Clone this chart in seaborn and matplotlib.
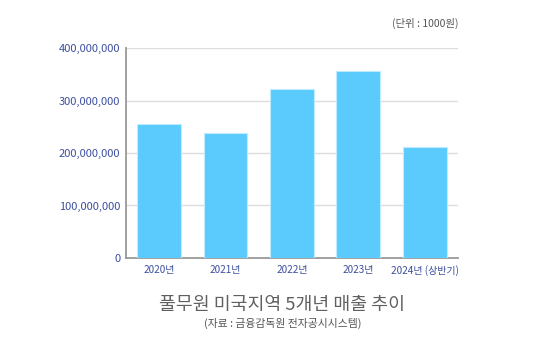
import pandas as pd
import seaborn as sns
import matplotlib.pyplot as plt
from matplotlib.ticker import FuncFormatter

# 데이터 (단위: 1000원)
years = ['2020년', '2021년', '2022년', '2023년', '2024년 (상반기)']
sales = [255000000, 238000000, 322000000, 356000000, 211000000]
yticks = [0, 100000000, 200000000, 300000000, 400000000]

df = pd.DataFrame({'year': years, 'sales': sales})

sns.set_theme(style='white')
plt.rcParams['font.family'] = ['Noto Sans CJK KR', 'DejaVu Sans']

fig = plt.figure(figsize=(5.35, 3.54), dpi=100)
ax = fig.add_axes([0.2355, 0.2712, 0.6205, 0.5932])

sns.barplot(data=df, x='year', y='sales', color='#5BCBFE', width=0.66,
            edgecolor='#BDEBFF', linewidth=0.8, saturation=1, ax=ax, zorder=3)

ax.set_ylim(0, 400000000)
ax.set_yticks(yticks)
ax.yaxis.set_major_formatter(FuncFormatter(lambda v, p: f'{int(v):,}'))
ax.grid(axis='y', color='#DDDDDD', linewidth=1, zorder=0)
ax.set_xlabel('')
ax.set_ylabel('')

for s in ['top', 'right']:
    ax.spines[s].set_visible(False)
for s in ['left', 'bottom']:
    ax.spines[s].set_color('#999999')
    ax.spines[s].set_linewidth(1.3)

ax.tick_params(axis='y', labelsize=8, colors='#3D4F9F', length=0, pad=4)
ax.tick_params(axis='x', labelsize=7.2, colors='#3D4F9F', length=0, pad=5)

fig.text(459 / 535, 1 - 23 / 354, '(단위 : 1000원)', ha='right', va='center',
         fontsize=7.5, color='#555555')
fig.text(282 / 535, 1 - 305 / 354, '풀무원 미국지역 5개년 매출 추이', ha='center',
         va='center', fontsize=13.2, color='#606060')
fig.text(283 / 535, 1 - 323 / 354, '(자료 : 금융감독원 전자공시시스템)', ha='center',
         va='center', fontsize=7.8, color='#555555')

fig.savefig('out.png', dpi=100)
